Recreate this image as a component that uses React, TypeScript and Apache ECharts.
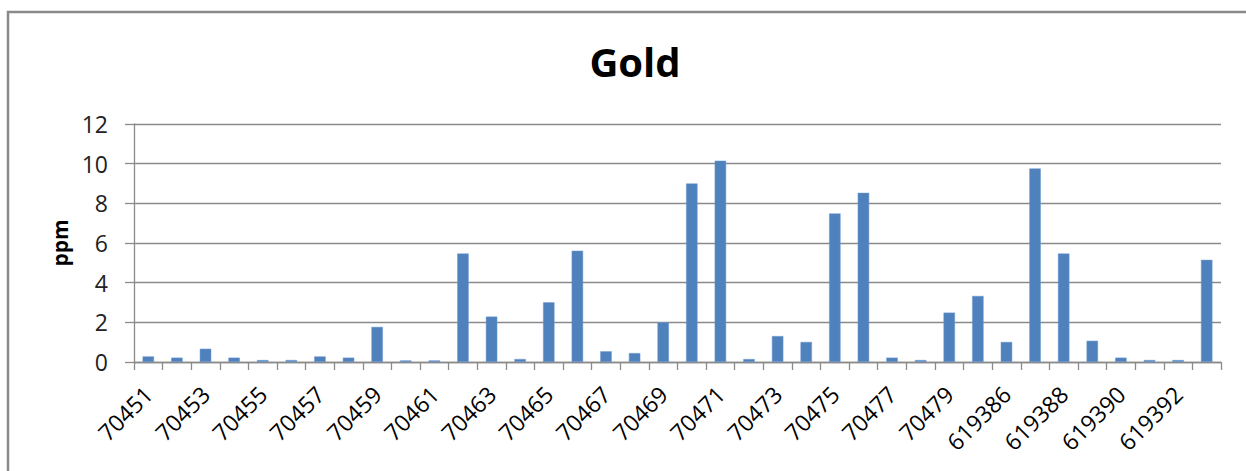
import React, { useEffect, useRef } from "react";
import * as echarts from "echarts";

// Sample IDs along the x axis
const sampleIds: string[] = [
  "70451", "70452", "70453", "70454", "70455", "70456", "70457", "70458",
  "70459", "70460", "70461", "70462", "70463", "70464", "70465", "70466",
  "70467", "70468", "70469", "70470", "70471", "70472", "70473", "70474",
  "70475", "70476", "70477", "70478", "70479", "70480",
  "619386", "619387", "619388", "619389", "619390", "619391", "619392", "619393",
];

// Gold assay, ppm
const goldPpm: number[] = [
  0.28, 0.22, 0.67, 0.22, 0.1, 0.1, 0.28, 0.22,
  1.77, 0.08, 0.08, 5.47, 2.29, 0.15, 3.01, 5.61,
  0.54, 0.45, 2.0, 9.0, 10.15, 0.15, 1.31, 1.01,
  7.49, 8.53, 0.22, 0.1, 2.49, 3.33,
  1.01, 9.76, 5.47, 1.07, 0.22, 0.1, 0.1, 5.15,
];

const yMin = 0;
const yMax = 12;
const yStep = 2;

const FONT = "'Open Sans', sans-serif";
const GRID_GREY = "#8a8a8a";

export default function App() {
  const ref = useRef<HTMLDivElement>(null);

  useEffect(() => {
    if (!ref.current) return;
    const chart = echarts.init(ref.current, null, { renderer: "svg" });
    chart.setOption({
      animation: false,
      backgroundColor: "#ffffff",
      title: {
        text: "Gold",
        left: 630,
        top: 36,
        textAlign: "center",
        textStyle: {
          fontFamily: FONT,
          fontWeight: "bold",
          fontSize: 40,
          color: "#000000",
        },
      },
      graphic: [
        {
          type: "rect",
          shape: { x: 8, y: 12, width: 1400, height: 600 },
          style: { fill: "none", stroke: GRID_GREY, lineWidth: 2.5 },
          silent: true,
        },
      ],
      grid: { left: 134, right: 25, top: 124, bottom: 109, containLabel: false },
      xAxis: {
        type: "category",
        data: sampleIds,
        boundaryGap: true,
        axisLine: { show: true, lineStyle: { color: GRID_GREY, width: 1.3 } },
        axisTick: { show: true, interval: 0, length: 8, lineStyle: { color: GRID_GREY, width: 1.3 } },
        axisLabel: {
          interval: 1,
          rotate: 45,
          margin: 28,
          fontFamily: FONT,
          fontSize: 23,
          color: "#000000",
        },
        splitLine: { show: false },
      },
      yAxis: {
        type: "value",
        min: yMin,
        max: yMax,
        interval: yStep,
        name: "ppm",
        nameLocation: "middle",
        nameRotate: 90,
        nameGap: 62,
        nameTextStyle: {
          fontFamily: FONT,
          fontWeight: "bold",
          fontSize: 21,
          color: "#000000",
        },
        axisLine: { show: true, lineStyle: { color: GRID_GREY, width: 1.3 } },
        axisTick: { show: true, length: 9, lineStyle: { color: GRID_GREY, width: 1.3 } },
        axisLabel: {
          margin: 26,
          fontFamily: FONT,
          fontSize: 23,
          color: "#222222",
        },
        splitLine: { show: true, lineStyle: { color: GRID_GREY, width: 1.3 } },
      },
      series: [
        {
          type: "bar",
          data: goldPpm,
          barWidth: "40%",
          itemStyle: { color: "#4f81bd", borderColor: "#6f9ad0", borderWidth: 0.5 },
        },
      ],
    });
    return () => chart.dispose();
  }, []);

  return (
    <div
      ref={ref}
      style={{ position: "fixed", left: 0, top: 0, width: 1246, height: 471 }}
    />
  );
}
